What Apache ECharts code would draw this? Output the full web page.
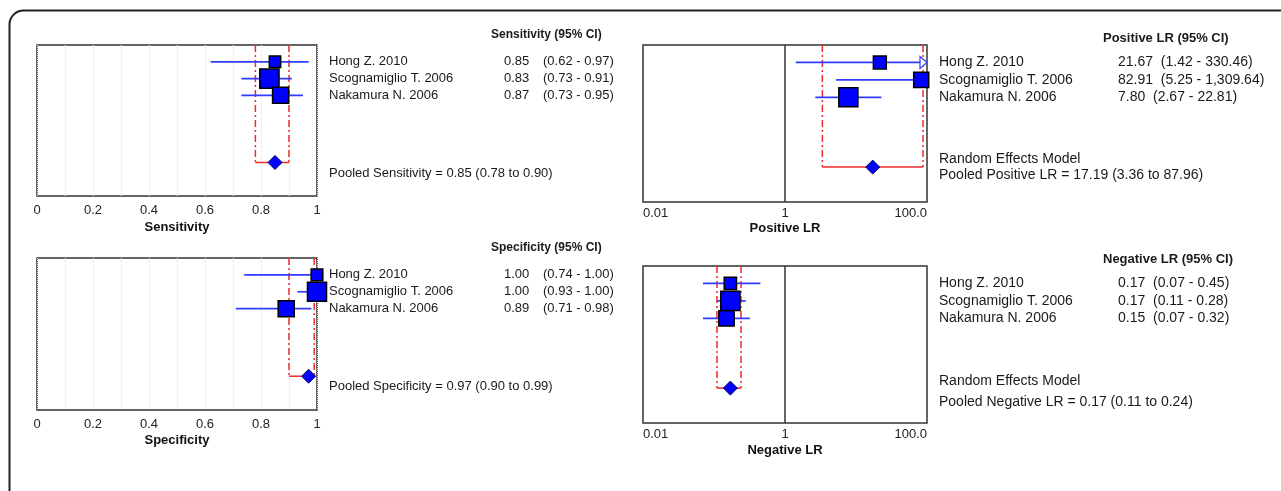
<!DOCTYPE html>
<html>
<head>
<meta charset="utf-8">
<title>Forest plots - sensitivity, specificity, LR</title>
<script src="https://cdn.jsdelivr.net/npm/echarts@6/dist/echarts.min.js"></script>
<style>
  html, body { margin: 0; padding: 0; background: #fff; }
  #chart { width: 1281px; height: 491px; }
</style>
</head>
<body>
<div id="chart"></div>
<script>
const studies = ['Hong Z. 2010', 'Scognamiglio T. 2006', 'Nakamura N. 2006'];

// sensitivity
const sensEst = [0.85, 0.83, 0.87];
const sensLo = [0.62, 0.73, 0.73];
const sensHi = [0.97, 0.91, 0.95];
const sensWeight = [17, 49, 34];
const sensPooled = [0.85, 0.78, 0.90];

// specificity
const specEst = [1.00, 1.00, 0.89];
const specLo = [0.74, 0.93, 0.71];
const specHi = [1.00, 1.00, 0.98];
const specWeight = [18, 48, 34];
const specPooled = [0.97, 0.90, 0.99];

// positive LR
const plrEst = [21.67, 82.91, 7.80];
const plrLo = [1.42, 5.25, 2.67];
const plrHi = [330.46, 1309.64, 22.81];
const plrWeight = [22, 30, 48];
const plrPooled = [17.19, 3.36, 87.96];

// negative LR
const nlrEst = [0.17, 0.17, 0.15];
const nlrLo = [0.07, 0.11, 0.07];
const nlrHi = [0.45, 0.28, 0.32];
const nlrWeight = [20, 49, 31];
const nlrPooled = [0.17, 0.11, 0.24];

const linTicks = ['0', '0.2', '0.4', '0.6', '0.8', '1'];
const logTicks = ['0.01', '1', '100.0'];

const FONT = '"Liberation Sans", Arial, sans-serif';
const BLUE = '#0000ff';
const CI_BLUE = '#2f3cff';
const RED = '#ee2a2a';

function fmt(v) {
  return v.toLocaleString('en-US', {minimumFractionDigits: 2, maximumFractionDigits: 2});
}
function pooledText(label, p) {
  return 'Pooled ' + label + ' = ' + fmt(p[0]) + ' (' + fmt(p[1]) + ' to ' + fmt(p[2]) + ')';
}

const panels = [
  {
    name: 'Sensitivity', log: false, min: 0, max: 1,
    grid: {left: 37, top: 45, width: 280, height: 151}, nameGap: 25, labelMargin: 8,
    est: sensEst, lo: sensLo, hi: sensHi, weight: sensWeight, pooled: sensPooled,
    font: 13, titleFont: 12, title: 'Sensitivity (95% CI)', titleRow: -0.6, titleX: 491,
    nameX: 329, valX: 504, ciX: 543,
    footer: [[7.65, pooledText('Sensitivity', sensPooled)]]
  },
  {
    name: 'Specificity', log: false, min: 0, max: 1,
    grid: {left: 37, top: 258, width: 280, height: 152}, nameGap: 24, labelMargin: 8,
    est: specEst, lo: specLo, hi: specHi, weight: specWeight, pooled: specPooled,
    font: 13, titleFont: 12, title: 'Specificity (95% CI)', titleRow: -0.6, titleX: 491,
    nameX: 329, valX: 504, ciX: 543,
    footer: [[7.6, pooledText('Specificity', specPooled)]]
  },
  {
    name: 'Positive LR', log: true, min: 0.01, max: 100,
    grid: {left: 643, top: 45, width: 284, height: 157}, nameGap: 20, labelMargin: 5,
    est: plrEst, lo: plrLo, hi: plrHi, weight: plrWeight, pooled: plrPooled,
    font: 14, titleFont: 13, title: 'Positive LR (95% CI)', titleRow: -0.4, titleX: 1103,
    nameX: 939, valX: 1118, ciX: null,
    footer: [[6.55, 'Random Effects Model'], [7.45, pooledText('Positive LR', plrPooled)]]
  },
  {
    name: 'Negative LR', log: true, min: 0.01, max: 100,
    grid: {left: 643, top: 266, width: 284, height: 157}, nameGap: 21, labelMargin: 5,
    est: nlrEst, lo: nlrLo, hi: nlrHi, weight: nlrWeight, pooled: nlrPooled,
    font: 14, titleFont: 13, title: 'Negative LR (95% CI)', titleRow: -0.35, titleX: 1103,
    nameX: 939, valX: 1118, ciX: null,
    footer: [[6.6, 'Random Effects Model'], [7.8, pooledText('Negative LR', nlrPooled)]]
  }
];

const grids = [];
const xAxes = [];
const yAxes = [];
const series = [];

panels.forEach(function (p, gi) {
  grids.push(Object.assign({show: true, borderColor: '#333', borderWidth: 1.5, containLabel: false}, p.grid));
  yAxes.push({type: 'value', gridIndex: gi, min: 0, max: 9, inverse: true, show: false});
  xAxes.push({
    type: p.log ? 'log' : 'value',
    logBase: 10,
    gridIndex: gi,
    min: p.min,
    max: p.max,
    interval: p.log ? undefined : 0.2,
    name: p.name,
    nameLocation: 'middle',
    nameGap: p.nameGap,
    nameTextStyle: {fontWeight: 'bold', fontSize: 13, color: '#111', fontFamily: FONT},
    axisLine: {show: false},
    axisTick: {show: false},
    axisLabel: {
      fontSize: 13, color: '#222', fontFamily: FONT, margin: p.labelMargin,
      alignMinLabel: p.log ? 'left' : 'center',
      alignMaxLabel: p.log ? 'right' : 'center',
      formatter: function (v) {
        if (p.log) {
          const e = Math.round(Math.log10(v));
          return e === -2 ? logTicks[0] : e === 0 ? logTicks[1] : e === 2 ? logTicks[2] : '';
        }
        return linTicks[Math.round(v * 5)] || '';
      }
    },
    splitLine: {show: !p.log, lineStyle: {type: 'dotted', color: '#e0e0e0'}},
    minorTick: {show: false, splitNumber: 2},
    minorSplitLine: {show: !p.log, lineStyle: {type: 'dotted', color: '#e0e0e0'}}
  });

  const refX = p.log ? 1 : 0.5;

  // line of no effect for the LR plots
  if (p.log) {
    series.push({
      type: 'custom', xAxisIndex: gi, yAxisIndex: gi, clip: false, silent: true,
      data: [[1, 0, 9]],
      renderItem: function (params, api) {
        const a = api.coord([api.value(0), api.value(1)]);
        const b = api.coord([api.value(0), api.value(2)]);
        return {type: 'line', shape: {x1: a[0], y1: a[1], x2: b[0], y2: b[1]}, style: {stroke: '#333', lineWidth: 1.5}};
      }
    });
  }

  // pooled estimate: dashed CI bounds, bracket, diamond
  series.push({
    type: 'custom', xAxisIndex: gi, yAxisIndex: gi, clip: false, silent: true,
    data: [[p.pooled[0], p.pooled[1], p.pooled[2], 7]],
    renderItem: function (params, api) {
      const row = api.value(3);
      const c = api.coord([api.value(0), row]);
      const l = api.coord([api.value(1), row]);
      const h = api.coord([api.value(2), row]);
      const top = api.coord([api.value(1), 0])[1];
      const dash = {stroke: RED, lineWidth: 1.5, lineDash: [7, 3, 2, 3]};
      const d = 7;
      return {type: 'group', children: [
        {type: 'line', shape: {x1: l[0], y1: top, x2: l[0], y2: l[1]}, style: dash},
        {type: 'line', shape: {x1: h[0], y1: top, x2: h[0], y2: h[1]}, style: dash},
        {type: 'line', shape: {x1: l[0], y1: l[1], x2: h[0], y2: h[1]}, style: {stroke: RED, lineWidth: 1.5}},
        {type: 'polygon', shape: {points: [[c[0] - d, c[1]], [c[0], c[1] - d], [c[0] + d, c[1]], [c[0], c[1] + d]]},
          style: {fill: BLUE, stroke: '#000060', lineWidth: 1}}
      ]};
    }
  });

  // individual studies: CI whiskers and weighted squares
  series.push({
    type: 'custom', xAxisIndex: gi, yAxisIndex: gi, clip: false, silent: true,
    data: p.est.map(function (e, i) { return [e, p.lo[i], p.hi[i], i + 1, p.weight[i]]; }),
    renderItem: function (params, api) {
      const row = api.value(3);
      const c = api.coord([api.value(0), row]);
      const l = api.coord([api.value(1), row]);
      const over = api.value(2) > p.max;
      const h = api.coord([over ? p.max : api.value(2), row]);
      const s = 2.75 * Math.sqrt(api.value(4));
      const kids = [];
      if (over) {
        kids.push({type: 'line', shape: {x1: l[0], y1: l[1], x2: h[0] - 7, y2: h[1]}, style: {stroke: CI_BLUE, lineWidth: 1.7}});
        kids.push({type: 'polygon', shape: {points: [[h[0] - 7, h[1] - 6], [h[0], h[1]], [h[0] - 7, h[1] + 6]]},
          style: {fill: '#fff', stroke: CI_BLUE, lineWidth: 1.2}});
      } else {
        kids.push({type: 'line', shape: {x1: l[0], y1: l[1], x2: h[0], y2: h[1]}, style: {stroke: CI_BLUE, lineWidth: 1.7}});
      }
      kids.push({type: 'rect', shape: {x: c[0] - s / 2, y: c[1] - s / 2, width: s, height: s},
        style: {fill: BLUE, stroke: '#000', lineWidth: 1.5}});
      return {type: 'group', children: kids};
    }
  });

  // text columns tied to the rows of the plot
  const texts = [{row: p.titleRow, x: p.titleX, text: p.title, bold: true, size: p.titleFont}];
  studies.forEach(function (s, i) {
    texts.push({row: i + 1, x: p.nameX, text: s, size: p.font});
    const ci = '(' + fmt(p.lo[i]) + ' - ' + fmt(p.hi[i]) + ')';
    if (p.ciX) {
      texts.push({row: i + 1, x: p.valX, text: fmt(p.est[i]), size: p.font});
      texts.push({row: i + 1, x: p.ciX, text: ci, size: p.font});
    } else {
      texts.push({row: i + 1, x: p.valX, text: fmt(p.est[i]) + '  ' + ci, size: p.font});
    }
  });
  p.footer.forEach(function (f) {
    texts.push({row: f[0], x: p.nameX, text: f[1], size: p.font});
  });

  series.push({
    type: 'custom', xAxisIndex: gi, yAxisIndex: gi, clip: false, silent: true,
    data: texts.map(function (t) { return [refX, t.row]; }),
    renderItem: function (params, api) {
      const t = texts[params.dataIndex];
      const y = api.coord([refX, api.value(1)])[1];
      return {type: 'text', style: {
        x: t.x, y: y, text: t.text, fill: '#1a1a1a',
        font: (t.bold ? 'bold ' : '') + t.size + 'px ' + FONT,
        align: 'left', verticalAlign: 'middle'
      }};
    }
  });
});

const chart = echarts.init(document.getElementById('chart'));
chart.setOption({
  animation: false,
  backgroundColor: '#fff',
  grid: grids,
  xAxis: xAxes,
  yAxis: yAxes,
  series: series,
  graphic: [{
    type: 'rect', silent: true,
    shape: {x: 9.5, y: 10.5, width: 1400, height: 600, r: 14},
    style: {fill: 'none', stroke: '#222', lineWidth: 2}
  }]
});
</script>
</body>
</html>
